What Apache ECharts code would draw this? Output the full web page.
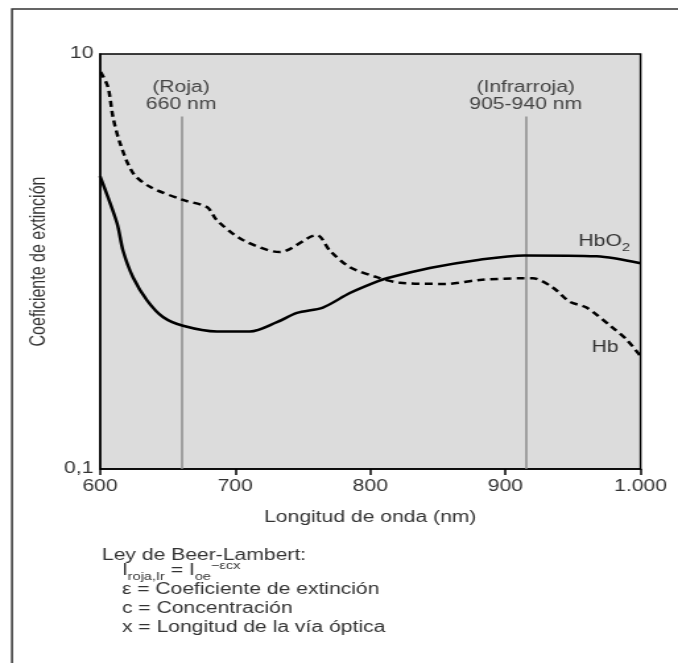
<!DOCTYPE html>
<html>
<head>
<meta charset="utf-8">
<script src="https://cdn.jsdelivr.net/npm/echarts@6/dist/echarts.min.js"></script>
<style>
  html, body { margin: 0; padding: 0; background: #fff; overflow: hidden; }
  /* the reference is stretched sideways, so the chart is drawn narrower and widened */
  #chart { width: 514px; height: 663px; transform: scaleX(1.3191); transform-origin: 0 0; }
</style>
</head>
<body>
<div id="chart"></div>
<script>
// HbO2 (solid line)
var hbo2Wavelength = [600, 612.6, 617, 624.4, 634.8, 646.6, 661.4, 686.5, 710.9, 730.9, 745.7, 764.9, 784.9, 804.8, 812.2, 844, 881, 914, 967.5, 1000];
var hbo2Values = [2.58, 1.53, 1.13, 0.84, 0.65, 0.54, 0.49, 0.46, 0.46, 0.51, 0.565, 0.60, 0.705, 0.80, 0.83, 0.93, 1.02, 1.07, 1.06, 0.98];

// Hb (dashed line)
var hbWavelength = [600.5, 605.9, 609.6, 614.8, 624.4, 637, 661.4, 679.1, 686.5, 705.7, 733.1, 760.4, 770, 784.8, 804.8, 821.8, 856.6, 881, 912.8, 920.2, 935, 947.5, 960, 979.3, 989.7, 1000];
var hbValues = [8.19, 6.93, 4.97, 3.72, 2.67, 2.29, 1.98, 1.83, 1.58, 1.27, 1.11, 1.34, 1.13, 0.94, 0.84, 0.79, 0.78, 0.815, 0.83, 0.83, 0.75, 0.64, 0.60, 0.48, 0.42, 0.35];

// marker wavelengths (red / infrared)
var markerWavelengths = [660, 915];
var markerLabels = [['(Roja)', '660 nm'], ['(Infrarroja)', '905-940 nm']];

var xTickLabels = {600: '600', 700: '700', 800: '800', 900: '900', 1000: '1.000'};

var FONT = 'Liberation Sans, Arial, sans-serif';
var TXT = '#333';

function pairs(xs, ys) {
  return xs.map(function (x, i) { return [x, ys[i]]; });
}

var chart = echarts.init(document.getElementById('chart'));

chart.setOption({
  animation: false,
  grid: {
    left: 75.8, right: 28.4, top: 54, bottom: 194,
    show: true, backgroundColor: '#dcdcdc', borderColor: '#000', borderWidth: 1.5
  },
  xAxis: {
    type: 'value', min: 600, max: 1000, interval: 100,
    axisLine: { lineStyle: { color: '#000', width: 1.5 } },
    axisTick: { show: true, length: 6, inside: false, lineStyle: { color: '#000', width: 1.5 } },
    axisLabel: {
      margin: 10, color: TXT, fontFamily: FONT, fontSize: 16,
      formatter: function (v) { return xTickLabels[v] || ''; }
    },
    splitLine: { show: false }
  },
  yAxis: {
    type: 'log', logBase: 10, min: 0.1, max: 10,
    name: 'Coeficiente de extinción', nameLocation: 'middle', nameGap: 28,
    nameTextStyle: { color: TXT, fontFamily: FONT, fontSize: 16 },
    axisLine: { show: true, lineStyle: { color: '#000', width: 1.5 } },
    axisTick: { show: false },
    axisLabel: {
      margin: 5, color: TXT, fontFamily: FONT, fontSize: 16,
      formatter: function (v) {
        if (v >= 9.99) return '10';
        if (v <= 0.1001) return '0,1';
        return '';
      }
    },
    splitLine: { show: false }
  },
  series: [
    {
      name: 'HbO2', type: 'line', data: pairs(hbo2Wavelength, hbo2Values),
      smooth: 0.3, showSymbol: false, symbol: 'none', z: 3,
      lineStyle: { color: '#000', width: 2.5 },
      emphasis: { disabled: true },
      markLine: {
        silent: true, z: 1, symbol: ['none', 'none'],
        label: { show: false },
        lineStyle: { color: '#8c8c8c', width: 1.5, type: 'solid' },
        data: markerWavelengths.map(function (w) {
          return [{ coord: [w, 5] }, { coord: [w, 0.1] }];
        })
      }
    },
    {
      name: 'Hb', type: 'line', data: pairs(hbWavelength, hbValues),
      smooth: 0.3, showSymbol: false, symbol: 'none', z: 3,
      lineStyle: { color: '#000', width: 2.5, type: [6, 4] },
      emphasis: { disabled: true }
    }
  ]
});

// texts placed in pixels, marker labels follow the x scale
var graphics = [
  { type: 'rect', silent: true, shape: { x: 9.1, y: 9, width: 700, height: 700 },
    style: { fill: 'none', stroke: '#333', lineWidth: 1.5 } },
  { type: 'text', silent: true, x: 280.7, y: 518,
    style: { text: 'Longitud de onda (nm)', fill: TXT, font: '16px ' + FONT, align: 'center', verticalAlign: 'middle' } },
  { type: 'text', silent: true, x: 458, y: 242,
    style: {
      text: '{a|HbO}{s|2}', align: 'center', verticalAlign: 'middle',
      rich: {
        a: { fill: TXT, fontFamily: FONT, fontSize: 16, lineHeight: 22 },
        s: { fill: TXT, fontFamily: FONT, fontSize: 11, verticalAlign: 'bottom' }
      }
    } },
  { type: 'text', silent: true, x: 458.7, y: 348,
    style: { text: 'Hb', fill: TXT, font: '16px ' + FONT, align: 'center', verticalAlign: 'middle' } },
  { type: 'text', silent: true, x: 77.3, y: 556,
    style: { text: 'Ley de Beer-Lambert:', fill: TXT, font: '16px ' + FONT, align: 'left', verticalAlign: 'middle' } },
  { type: 'text', silent: true, x: 92.4, y: 571,
    style: {
      text: '{b|I}{sub|roja,Ir}{b| = I}{sub|oe}{sup|−εcx}', align: 'left', verticalAlign: 'middle',
      rich: {
        b: { fill: TXT, fontFamily: FONT, fontSize: 16, lineHeight: 22 },
        sub: { fill: TXT, fontFamily: FONT, fontSize: 11, verticalAlign: 'bottom' },
        sup: { fill: TXT, fontFamily: FONT, fontSize: 11, verticalAlign: 'top' }
      }
    } },
  { type: 'text', silent: true, x: 92.4, y: 590,
    style: { text: 'ε = Coeficiente de extinción', fill: TXT, font: '16px ' + FONT, align: 'left', verticalAlign: 'middle' } },
  { type: 'text', silent: true, x: 92.4, y: 609,
    style: { text: 'c = Concentración', fill: TXT, font: '16px ' + FONT, align: 'left', verticalAlign: 'middle' } },
  { type: 'text', silent: true, x: 92.4, y: 628,
    style: { text: 'x = Longitud de la vía óptica', fill: TXT, font: '16px ' + FONT, align: 'left', verticalAlign: 'middle' } }
];

markerWavelengths.forEach(function (w, i) {
  var px = chart.convertToPixel({ xAxisIndex: 0 }, w);
  graphics.push({ type: 'text', silent: true, x: px, y: 88,
    style: { text: markerLabels[i][0], fill: '#444', font: '16px ' + FONT, align: 'center', verticalAlign: 'middle' } });
  graphics.push({ type: 'text', silent: true, x: px, y: 105,
    style: { text: markerLabels[i][1], fill: '#444', font: '16px ' + FONT, align: 'center', verticalAlign: 'middle' } });
});

chart.setOption({ graphic: graphics });
</script>
</body>
</html>
